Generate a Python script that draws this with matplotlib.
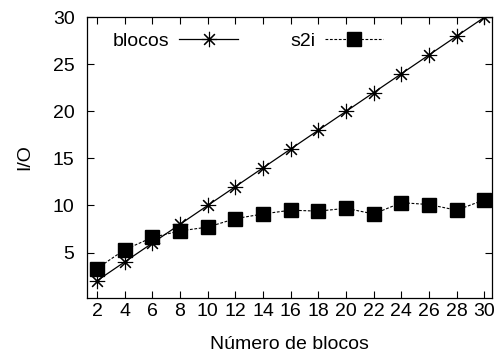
import matplotlib
matplotlib.use("Agg")
import matplotlib.pyplot as plt

plt.rcParams['font.family'] = ['Liberation Sans', 'DejaVu Sans']

x_blocks = [2, 4, 6, 8, 10, 12, 14, 16, 18, 20, 22, 24, 26, 28, 30]
blocos = [2, 4, 6, 8, 10, 12, 14, 16, 18, 20, 22, 24, 26, 28, 30]
s2i = [3.3, 5.3, 6.6, 7.3, 7.7, 8.6, 9.1, 9.5, 9.4, 9.7, 9.1, 10.3, 10.1, 9.5, 10.6]
x_ticks = [2, 4, 6, 8, 10, 12, 14, 16, 18, 20, 22, 24, 26, 28, 30]
y_ticks = [5, 10, 15, 20, 25, 30]

FS = 14

fig = plt.figure(figsize=(4.99, 3.56), dpi=100)
ax = fig.add_axes([87/499, 1 - 297.7/356, (491.7-87)/499, (297.7-17.3)/356])

ax.plot(x_blocks, blocos, color='black', lw=0.9, marker=(8, 2, 0), markersize=11,
        markeredgewidth=0.8, label='blocos')
ax.plot(x_blocks, s2i, color='black', lw=0.8, ls=(0, (2.5, 1.5)), marker='s', markersize=9.5,
        label='s2i')

ax.set_xlim(1.28, 30.53)
ax.set_ylim(0.2, 30)
ax.set_xticks(x_ticks)
ax.set_yticks(y_ticks)
ax.tick_params(axis='x', pad=4)
ax.tick_params(axis='y', pad=9)
ax.tick_params(direction='in', top=True, right=True, length=5, width=0.8, labelsize=FS)
for s in ax.spines.values():
    s.set_linewidth(0.9)
ax.set_xlabel('Número de blocos', fontsize=FS, labelpad=11)
ax.set_ylabel('I/O', fontsize=FS, labelpad=14)

ax.legend(loc='upper left', ncol=2, markerfirst=False, frameon=False, fontsize=FS,
          handlelength=3.0, columnspacing=2.7, handletextpad=0.5,
          borderpad=0, borderaxespad=0,
          bbox_to_anchor=(113/499, 1 - 32/356), bbox_transform=fig.transFigure)

fig.savefig('out.png', dpi=100)
